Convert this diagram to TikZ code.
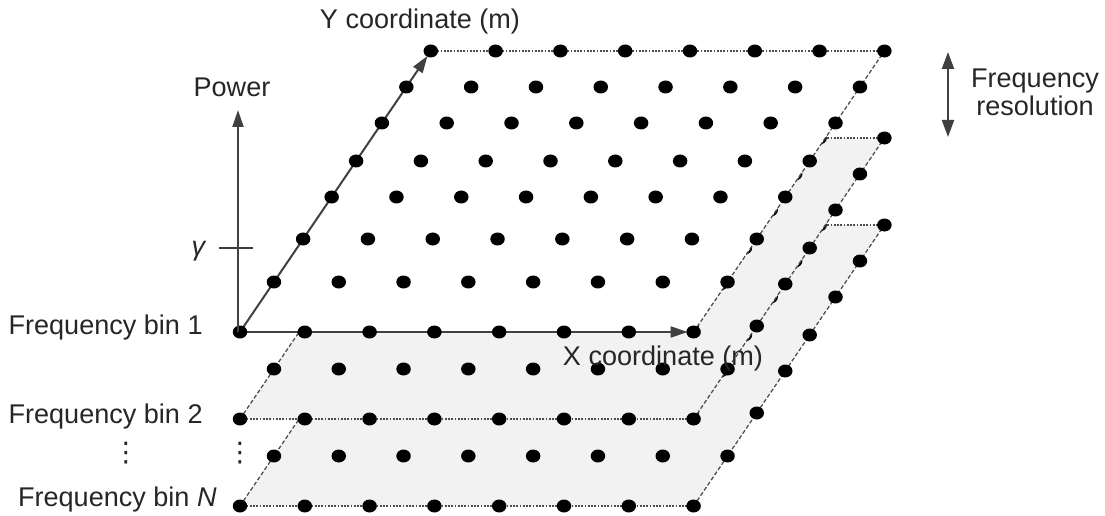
\documentclass[tikz,border=0pt]{standalone}
\usepackage{fontspec}
\setmainfont{Liberation Sans}
\newfontfamily\symfont{DejaVu Sans}
\usetikzlibrary{arrows.meta}

\def\rowh{0,50,93,135,171,209,245,281}

\begin{document}
\begin{tikzpicture}[
  x=0.2mm, y=-0.2mm,
  every node/.style={font=\fontsize{15.4}{16}\selectfont, align=center, inner sep=0pt, text=black!85},
  plane/.style={fill=black!5},
  edgex/.style={draw=black!70, line width=0.25mm, dash pattern=on 0.35mm off 0.3mm},
  edgey/.style={draw=black!70, line width=0.25mm, dash pattern=on 0.8mm off 0.45mm},
  axis/.style={draw=black!75, line width=0.4mm, -{Triangle[length=3.4mm, width=2.2mm]}},
  dot/.style={fill=black}
]
\useasboundingbox (0,0) rectangle (1105,516);

% LOWER FREQUENCY BINS, BACK TO FRONT
\foreach \bin/\base in {N/506, 2/419}{
  \coordinate (sw\bin) at (240,\base);
  \coordinate (se\bin) at (693.6,\base);
  \coordinate (ne\bin) at (884.4,{\base-281});
  \coordinate (nw\bin) at (430.8,{\base-281});
  \fill[plane] (sw\bin) -- (se\bin) -- (ne\bin) -- (nw\bin) -- cycle;
  \draw[edgex] (sw\bin) -- (se\bin) (nw\bin) -- (ne\bin);
  \draw[edgey] (sw\bin) -- (nw\bin) (se\bin) -- (ne\bin);
  \foreach \h in \rowh
    \foreach \i in {0,...,7}
      \fill[dot] ({240+64.8*\i+0.679*\h},{\base-\h}) ellipse [x radius=1.45mm, y radius=1.3mm];
}

% FREQUENCY BIN 1
\coordinate (sw1) at (240,332);
\coordinate (se1) at (693.6,332);
\coordinate (ne1) at (884.4,51);
\coordinate (nw1) at (430.8,51);
\fill[white] (sw1) -- (se1) -- (ne1) -- (nw1) -- cycle;
\draw[edgex] (nw1) -- (ne1);
\draw[edgey] (se1) -- (ne1);
\draw[axis, shorten >=1.2mm] (sw1) -- (se1);
\draw[axis, shorten >=1.2mm] (sw1) -- (nw1);
\foreach \h in \rowh
  \foreach \i in {0,...,7}
    \fill[dot] ({240+64.8*\i+0.679*\h},{332-\h}) ellipse [x radius=1.45mm, y radius=1.3mm];

% POWER AXIS
\coordinate (p0) at (238,332);
\coordinate (p1) at (238,110);
\draw[axis] (p0) -- (p1);
\coordinate (tl) at (219,248);
\coordinate (tr) at (253,248);
\draw[draw=black!75, line width=0.35mm] (tl) -- (tr);

% FREQUENCY RESOLUTION
\coordinate (r0) at (948,52);
\coordinate (r1) at (948,137);
\draw[axis, {Triangle[length=3.4mm, width=2.4mm]}-{Triangle[length=3.4mm, width=2.4mm]}] (r0) -- (r1);

% LABELS
\node (power) at (232,87) {Power};
\node (gam) at (199,251) {\textit{γ}};
\node (ylab) at (420,21) {Y coordinate (m)};
\node (xlab) at (663,358) {X coordinate (m)};
\node (res) at (1035,92) {Frequency\\resolution};
\node[anchor=east] (bin1) at (203,328) {Frequency bin 1};
\node[anchor=east] (bin2) at (203,417) {Frequency bin 2};
\node[anchor=east] (binN) at (217,500) {Frequency bin \textit{N}};
\node (vd1) at (126,453) {\symfont ⋮};
\node (vd2) at (240,453) {\symfont ⋮};

\end{tikzpicture}
\end{document}
